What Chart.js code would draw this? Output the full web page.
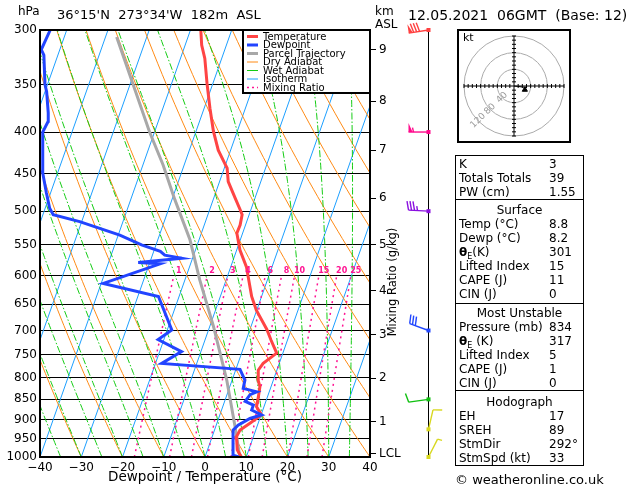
<!DOCTYPE html>
<html>
<head>
<meta charset="utf-8">
<title>Skew-T 12.05.2021 06GMT</title>
<script src="https://cdn.jsdelivr.net/npm/chart.js@4.4.1/dist/chart.umd.min.js"></script>
<style>
  body { margin: 0; background: #fff; }
  #page { position: relative; width: 629px; height: 486px; overflow: hidden; font-family: "DejaVu Sans", sans-serif; color: #000; }
  #SkewTPlot { position: absolute; left: 0; top: 0; }
  .txt { position: absolute; white-space: nowrap; line-height: 16px; }
  #hodoBox { position: absolute; left: 457px; top: 29px; width: 110px; height: 110px; border: 2px solid #000; }
  #HodoPlot { position: absolute; left: 0; top: 0; }
  #hodoKt { position: absolute; left: 4px; top: 1px; font-size: 11px; line-height: 12px; }
  #stats { position: absolute; left: 455px; top: 155px; width: 127px; border: 1px solid #000; font-size: 12px; }
  #stats .sec { border-top: 1px solid #000; }
  #stats .sec:first-child { border-top: none; padding-top: 1px; }
  #stats .s2 { padding: 3px 0 2px; }
  #stats .s3 { padding: 2px 0 0; }
  #stats .s4 { padding: 4px 0 0; }
  #stats .row { position: relative; height: 14px; line-height: 14px; padding-left: 3px; white-space: nowrap; }
  #stats .row .v { position: absolute; left: 93px; top: 0; }
  #stats .hd { text-align: center; padding-left: 0; }
  #stats sub { font-size: 8px; line-height: 0; }
</style>
</head>
<body>
<div id="page">
  <canvas id="SkewTPlot" width="629" height="486"></canvas>

  <div class="txt" style="left:18px;top:3px;font-size:12px;">hPa</div>
  <div class="txt" style="left:57px;top:7px;font-size:13px;">36°15'N&nbsp; 273°34'W&nbsp; 182m&nbsp; ASL</div>
  <div class="txt" style="left:375px;top:3px;font-size:12px;">km</div>
  <div class="txt" style="left:375px;top:16px;font-size:12px;">ASL</div>
  <div class="txt" style="left:408px;top:7px;font-size:14px;">12.05.2021&nbsp; 06GMT&nbsp; (Base: 12)</div>

  <div id="hodoBox">
    <canvas id="HodoPlot" width="110" height="110"></canvas>
    <div id="hodoKt">kt</div>
  </div>

  <div id="stats">
    <div class="sec">
      <div class="row">K<span class="v">3</span></div>
      <div class="row">Totals Totals<span class="v">39</span></div>
      <div class="row">PW (cm)<span class="v">1.55</span></div>
    </div>
    <div class="sec s2">
      <div class="row hd">Surface</div>
      <div class="row">Temp (°C)<span class="v">8.8</span></div>
      <div class="row">Dewp (°C)<span class="v">8.2</span></div>
      <div class="row"><b>θ</b><sub>E</sub>(K)<span class="v">301</span></div>
      <div class="row">Lifted Index<span class="v">15</span></div>
      <div class="row">CAPE (J)<span class="v">11</span></div>
      <div class="row">CIN (J)<span class="v">0</span></div>
    </div>
    <div class="sec s3">
      <div class="row hd">Most Unstable</div>
      <div class="row">Pressure (mb)<span class="v">834</span></div>
      <div class="row"><b>θ</b><sub>E</sub> (K)<span class="v">317</span></div>
      <div class="row">Lifted Index<span class="v">5</span></div>
      <div class="row">CAPE (J)<span class="v">1</span></div>
      <div class="row">CIN (J)<span class="v">0</span></div>
    </div>
    <div class="sec s4">
      <div class="row hd">Hodograph</div>
      <div class="row">EH<span class="v">17</span></div>
      <div class="row">SREH<span class="v">89</span></div>
      <div class="row">StmDir<span class="v">292°</span></div>
      <div class="row">StmSpd (kt)<span class="v">33</span></div>
    </div>
  </div>

  <div class="txt" style="left:455px;top:472px;font-size:13px;">© weatheronline.co.uk</div>
</div>

<script>
// sounding (hPa / °C)
const tempPressure = [1000, 980, 944, 927, 909, 888, 868, 844, 820, 805, 783, 768, 746, 719, 698, 661, 636, 585, 558, 532, 520, 505, 498, 482, 460, 443, 437, 421, 399, 374, 349, 325, 313, 300]
const tempValues = [8.8, 7.2, 5.9, 6.2, 8.0, 10.1, 8.2, 7.8, 7.3, 6.3, 5.5, 6.1, 8.5, 6.0, 4.1, -0.1, -2.4, -6.2, -9.2, -11.4, -11.3, -11.7, -12.6, -14.8, -17.9, -19.3, -20.3, -23.0, -25.8, -28.6, -31.4, -34.1, -36.0, -37.5]

const dewPressure = [1000, 995, 927, 914, 897, 888, 876, 864, 855, 839, 832, 824, 805, 781, 768, 743, 718, 699, 636, 613, 580, 578, 571, 566, 560, 550, 535, 515, 505, 496, 474, 448, 400, 388, 379, 357, 350, 322, 317, 300]
const dewValues = [8.2, 6.7, 4.5, 5.3, 7.6, 10.1, 7.3, 7.3, 5.0, 5.6, 7.0, 3.4, 3.1, 1.0, -18.5, -14.7, -21.4, -18.9, -25.0, -39.5, -27.4, -32.8, -22.6, -27.0, -28.4, -33.5, -39.6, -50.5, -57.5, -58.9, -61.1, -63.7, -67.1, -66.7, -67.4, -69.6, -70.6, -73.4, -74.5, -74.0]

const parcelPressure = [1000, 990, 918, 805, 692, 607, 542, 484, 439, 400, 365, 306]
const parcelValues = [8.8, 8.0, 4.7, -1.3, -9.1, -16.4, -22.2, -29.3, -35.1, -41.2, -46.7, -57.3]

// winds on the right hand column
const windPressure = [1000, 925, 850, 700, 500, 400, 300]
const windDirection = [27, 13, 262, 290, 273, 270, 261]
const windSpeed = [5, 10, 10, 30, 35, 55, 80]
const windColors = ['#d8d820', '#d8d820', '#10c010', '#2046ff', '#8a10e0', '#ff0a8c', '#ff4040']

// hodograph (kt)
const hodoU = [0, 9, 17, 25, 31]
const hodoV = [0, -1, -2, -3, -3]
const stormU = [26]
const stormV = [-9]
const ringSpeeds = [40, 80, 120]

// axes
const pressureTicks = [300, 350, 400, 450, 500, 550, 600, 650, 700, 750, 800, 850, 900, 950, 1000]
const kmPressures = [990, 905, 801, 708, 626, 550, 482, 421, 366.5, 317.4]
const kmLabels = ['LCL', '1', '2', '3', '4', '5', '6', '7', '8', '9']

// background lines
const isotherms = [-70, -60, -50, -40, -30, -20, -10, 0, 10, 20, 30, 40]
const dryAdiabats = [-40, -30, -20, -10, 0, 10, 20, 30, 40, 50, 60, 70, 80, 90, 100, 110, 120, 130, 140, 150]
const wetAdiabats = [-40, -35, -30, -25, -20, -15, -10, -5, 0, 5, 10, 15, 20, 25, 30, 35, 40]
const mixingRatios = [1, 2, 3, 4, 6, 8, 10, 15, 20, 25]

const TEMP_COLOR = '#ff4444'
const DEW_COLOR = '#2244ff'
const PARCEL_COLOR = '#a8a8a8'
const DRY_COLOR = '#ff8a14'
const WET_COLOR = '#14cc14'
const ISO_COLOR = '#1c9fff'
const MIX_COLOR = '#ff1493'

const SKEW = 30.3
const skewX = (t, p) => t + SKEW * Math.log(1000 / p)
const profile = (ps, ts) => ps.map((p, i) => ({x: skewX(ts[i], p), y: p}))

const levels = []
for (let p = 1000; p >= 300; p -= 10) levels.push(p)

const dryLine = th => levels.map(p => ({x: skewX((th + 273.15) * Math.pow(p / 1000, 0.2857) - 273.15, p), y: p}))

const satVap = tc => 6.112 * Math.exp(17.67 * tc / (tc + 243.5))
const moistRate = (tk, p) => {
    const es = satVap(tk - 273.15)
    const rs = 0.622 * es / (p - es)
    return (287.04 * tk + 2.501e6 * rs) / (1005.7 + 2.501e6 * 2.501e6 * rs * 0.622 / (287.04 * tk * tk)) / p
}
const wetLine = t0 => {
    let tk = t0 + 273.15
    return levels.map(p => {
        const pt = {x: skewX(tk - 273.15, p), y: p}
        const k1 = moistRate(tk, p)
        const k2 = moistRate(tk - 10 * k1, p - 10)
        tk -= 5 * (k1 + k2)
        return pt
    })
}

const mixTemp = (w, p) => {
    const e = w / 1000 * p / (0.622 + w / 1000)
    const l = Math.log(e / 6.112)
    return 243.5 * l / (17.67 - l)
}
const mixLevels = [1000, 950, 900, 850, 800, 750, 700, 650, 600]
const mixLine = w => mixLevels.map(p => ({x: skewX(mixTemp(w, p), p), y: p}))

const lineSet = (label, data, color, width, dash, order) => ({
    label, data, order,
    borderColor: color, borderWidth: width, borderDash: dash,
    pointRadius: 0, pointHoverRadius: 0, showLine: true, fill: false, tension: 0
})

const datasets = [
    lineSet('Dewpoint', profile(dewPressure, dewValues), DEW_COLOR, 3, [], 1),
    lineSet('Temperature', profile(tempPressure, tempValues), TEMP_COLOR, 3, [], 2),
    lineSet('Parcel Trajectory', profile(parcelPressure, parcelValues), PARCEL_COLOR, 3, [], 3),
    ...mixingRatios.map(w => lineSet('Mixing Ratio', mixLine(w), MIX_COLOR, 1.5, [2, 4], 10)),
    ...wetAdiabats.map(t => lineSet('Wet Adiabat', wetLine(t), WET_COLOR, 1, [7, 2, 1.5, 2], 11)),
    ...dryAdiabats.map(t => lineSet('Dry Adiabat', dryLine(t), DRY_COLOR, 1, [], 12)),
    ...isotherms.map(t => lineSet('Isotherm', [{x: skewX(t, 1000), y: 1000}, {x: skewX(t, 300), y: 300}], ISO_COLOR, 1, [], 13))
]

const legendItems = [
    {text: 'Temperature', color: TEMP_COLOR, width: 3, dash: []},
    {text: 'Dewpoint', color: DEW_COLOR, width: 3, dash: []},
    {text: 'Parcel Trajectory', color: PARCEL_COLOR, width: 3, dash: []},
    {text: 'Dry Adiabat', color: DRY_COLOR, width: 1, dash: []},
    {text: 'Wet Adiabat', color: WET_COLOR, width: 1, dash: []},
    {text: 'Isotherm', color: ISO_COLOR, width: 1, dash: []},
    {text: 'Mixing Ratio', color: MIX_COLOR, width: 1.5, dash: [2, 3]}
]

const drawBarb = (ctx, x0, y0, dir, spd, color) => {
    const r = dir * Math.PI / 180
    const sx = Math.sin(r), sy = -Math.cos(r)
    const fx = Math.cos(r), fy = Math.sin(r)
    const len = 20, fl = 9, gap = 3
    ctx.strokeStyle = color
    ctx.fillStyle = color
    ctx.lineWidth = 1.4
    ctx.beginPath()
    ctx.moveTo(x0, y0)
    ctx.lineTo(x0 + sx * len, y0 + sy * len)
    ctx.stroke()
    let rest = Math.round(spd / 5) * 5
    let d = len
    while (rest >= 50) {
        const bx = x0 + sx * d, by = y0 + sy * d
        ctx.beginPath()
        ctx.moveTo(bx, by)
        ctx.lineTo(bx + fx * fl, by + fy * fl)
        ctx.lineTo(bx - sx * 4, by - sy * 4)
        ctx.closePath()
        ctx.fill()
        d -= 5
        rest -= 50
    }
    while (rest >= 5) {
        const k = rest >= 10 ? 1 : 0.5
        const bx = x0 + sx * d, by = y0 + sy * d
        ctx.beginPath()
        ctx.moveTo(bx, by)
        ctx.lineTo(bx + fx * fl * k + sx * 2 * k, by + fy * fl * k + sy * 2 * k)
        ctx.stroke()
        d -= gap
        rest -= k === 1 ? 10 : 5
    }
}

const skewDecor = {
    id: 'skewDecor',
    afterDatasetsDraw(chart) {
        const {ctx, chartArea: a, scales: {x, y}} = chart
        ctx.save()

        // mixing ratio labels
        ctx.fillStyle = MIX_COLOR
        ctx.font = 'bold 8px "DejaVu Sans"'
        ctx.textAlign = 'center'
        ctx.textBaseline = 'middle'
        mixingRatios.forEach(w => {
            ctx.fillText(String(w), x.getPixelForValue(skewX(mixTemp(w, 600), 600)) + 5, y.getPixelForValue(591))
        })

        // legend box
        const lx = a.right - 127, ly = a.top
        ctx.fillStyle = '#fff'
        ctx.fillRect(lx, ly, 127, 63)
        ctx.strokeStyle = '#000'
        ctx.lineWidth = 2
        ctx.strokeRect(lx, ly, 127, 63)
        ctx.font = '10px "DejaVu Sans"'
        ctx.textAlign = 'left'
        legendItems.forEach((it, i) => {
            const cy = ly + 6.5 + i * 8.5
            ctx.strokeStyle = it.color
            ctx.lineWidth = it.width
            ctx.setLineDash(it.dash)
            ctx.beginPath()
            ctx.moveTo(lx + 4, cy)
            ctx.lineTo(lx + 15, cy)
            ctx.stroke()
            ctx.setLineDash([])
            ctx.fillStyle = '#000'
            ctx.fillText(it.text, lx + 20, cy + 0.5)
        })

        // frame
        ctx.strokeStyle = '#000'
        ctx.lineWidth = 2
        ctx.strokeRect(a.left, a.top, a.right - a.left, a.bottom - a.top)

        // right axis title
        ctx.fillStyle = '#000'
        ctx.font = '11.5px "DejaVu Sans"'
        ctx.textAlign = 'center'
        ctx.translate(a.right + 23, 282)
        ctx.rotate(-Math.PI / 2)
        ctx.fillText('Mixing Ratio (g/kg)', 0, 0)
        ctx.setTransform(chart.currentDevicePixelRatio, 0, 0, chart.currentDevicePixelRatio, 0, 0)

        // wind column
        const wx = a.right + 58.5
        ctx.strokeStyle = '#000'
        ctx.lineWidth = 1
        ctx.beginPath()
        ctx.moveTo(wx, a.top)
        ctx.lineTo(wx, a.bottom)
        ctx.stroke()
        windPressure.forEach((p, i) => {
            const wy = y.getPixelForValue(p)
            drawBarb(ctx, wx, wy, windDirection[i], windSpeed[i], windColors[i])
            ctx.fillStyle = windColors[i]
            ctx.fillRect(wx - 2, wy - 2, 4, 4)
        })
        ctx.restore()
    }
}

const tickFont = {family: '"DejaVu Sans"', size: 12}

new Chart(document.getElementById('SkewTPlot'), {
    type: 'scatter',
    data: {datasets},
    options: {
        responsive: false,
        animation: false,
        events: [],
        layout: {padding: {top: 30, left: 0, right: 0, bottom: 0}},
        plugins: {legend: {display: false}, tooltip: {enabled: false}},
        scales: {
            x: {
                type: 'linear', position: 'bottom', min: -40, max: 40,
                ticks: {stepSize: 10, color: '#000', font: tickFont, padding: 4, maxRotation: 0,
                    callback: v => v < 0 ? '\u2212' + Math.abs(v) : String(v)},
                grid: {display: false, drawTicks: false},
                border: {display: false},
                title: {display: true, text: 'Dewpoint / Temperature (°C)', color: '#000',
                    font: {family: '"DejaVu Sans"', size: 13.5}, padding: {top: 0, bottom: 0}},
                afterFit: s => { s.height = 29 }
            },
            y: {
                type: 'logarithmic', position: 'left', min: 300, max: 1000, reverse: true,
                afterBuildTicks: s => { s.ticks = pressureTicks.map(v => ({value: v})) },
                ticks: {color: '#000', font: tickFont, padding: 3, callback: v => String(v)},
                grid: {color: '#000', lineWidth: 1, drawTicks: false},
                border: {display: false},
                afterFit: s => { s.width = 40 }
            },
            km: {
                type: 'logarithmic', position: 'right', min: 300, max: 1000, reverse: true,
                afterBuildTicks: s => { s.ticks = kmPressures.map(v => ({value: v})) },
                ticks: {color: '#000', font: tickFont, padding: 3, callback: (v, i) => kmLabels[i]},
                grid: {drawOnChartArea: false, color: '#000', lineWidth: 1, tickLength: 6},
                border: {display: false},
                afterFit: s => { s.width = 259 }
            }
        }
    },
    plugins: [skewDecor]
})

const hodoDecor = {
    id: 'hodoDecor',
    beforeDatasetsDraw(chart) {
        const {ctx, scales: {x, y}} = chart
        const cx = x.getPixelForValue(0), cy = y.getPixelForValue(0)
        ctx.save()
        ctx.strokeStyle = '#aaa'
        ctx.lineWidth = 1
        ringSpeeds.forEach(s => {
            ctx.beginPath()
            ctx.arc(cx, cy, x.getPixelForValue(s) - cx, 0, 2 * Math.PI)
            ctx.stroke()
        })
        ctx.strokeStyle = '#000'
        ctx.beginPath()
        ctx.moveTo(x.left, cy)
        ctx.lineTo(x.right, cy)
        ctx.moveTo(cx, y.top)
        ctx.lineTo(cx, y.bottom)
        for (let s = -120; s <= 120; s += 10) {
            if (s === 0) continue
            const px = x.getPixelForValue(s), py = y.getPixelForValue(s)
            ctx.moveTo(px, cy - 2)
            ctx.lineTo(px, cy + 2)
            ctx.moveTo(cx - 2, py)
            ctx.lineTo(cx + 2, py)
        }
        ctx.stroke()
        ctx.fillStyle = '#999'
        ctx.font = '9px "DejaVu Sans"'
        ctx.textAlign = 'center'
        ctx.textBaseline = 'middle'
        ringSpeeds.forEach(s => {
            const r = x.getPixelForValue(s) - cx
            ctx.save()
            ctx.translate(cx - r * 0.72, cy + r * 0.69)
            ctx.rotate(-Math.PI / 4)
            ctx.fillText(String(s), 0, 0)
            ctx.restore()
        })
        ctx.restore()
    }
}

new Chart(document.getElementById('HodoPlot'), {
    type: 'scatter',
    data: {
        datasets: [
            {data: hodoU.map((u, i) => ({x: u, y: hodoV[i]})), borderColor: '#000', borderWidth: 1,
                showLine: true, pointRadius: 0, tension: 0},
            {data: stormU.map((u, i) => ({x: u, y: stormV[i]})), pointStyle: 'triangle', pointRadius: 3,
                backgroundColor: '#000', borderColor: '#000', showLine: false}
        ]
    },
    options: {
        responsive: false,
        animation: false,
        events: [],
        layout: {padding: 0},
        plugins: {legend: {display: false}, tooltip: {enabled: false}},
        scales: {
            x: {type: 'linear', min: -120, max: 120, display: false},
            y: {type: 'linear', min: -120, max: 120, display: false}
        }
    },
    plugins: [hodoDecor]
})
</script>
</body>
</html>
